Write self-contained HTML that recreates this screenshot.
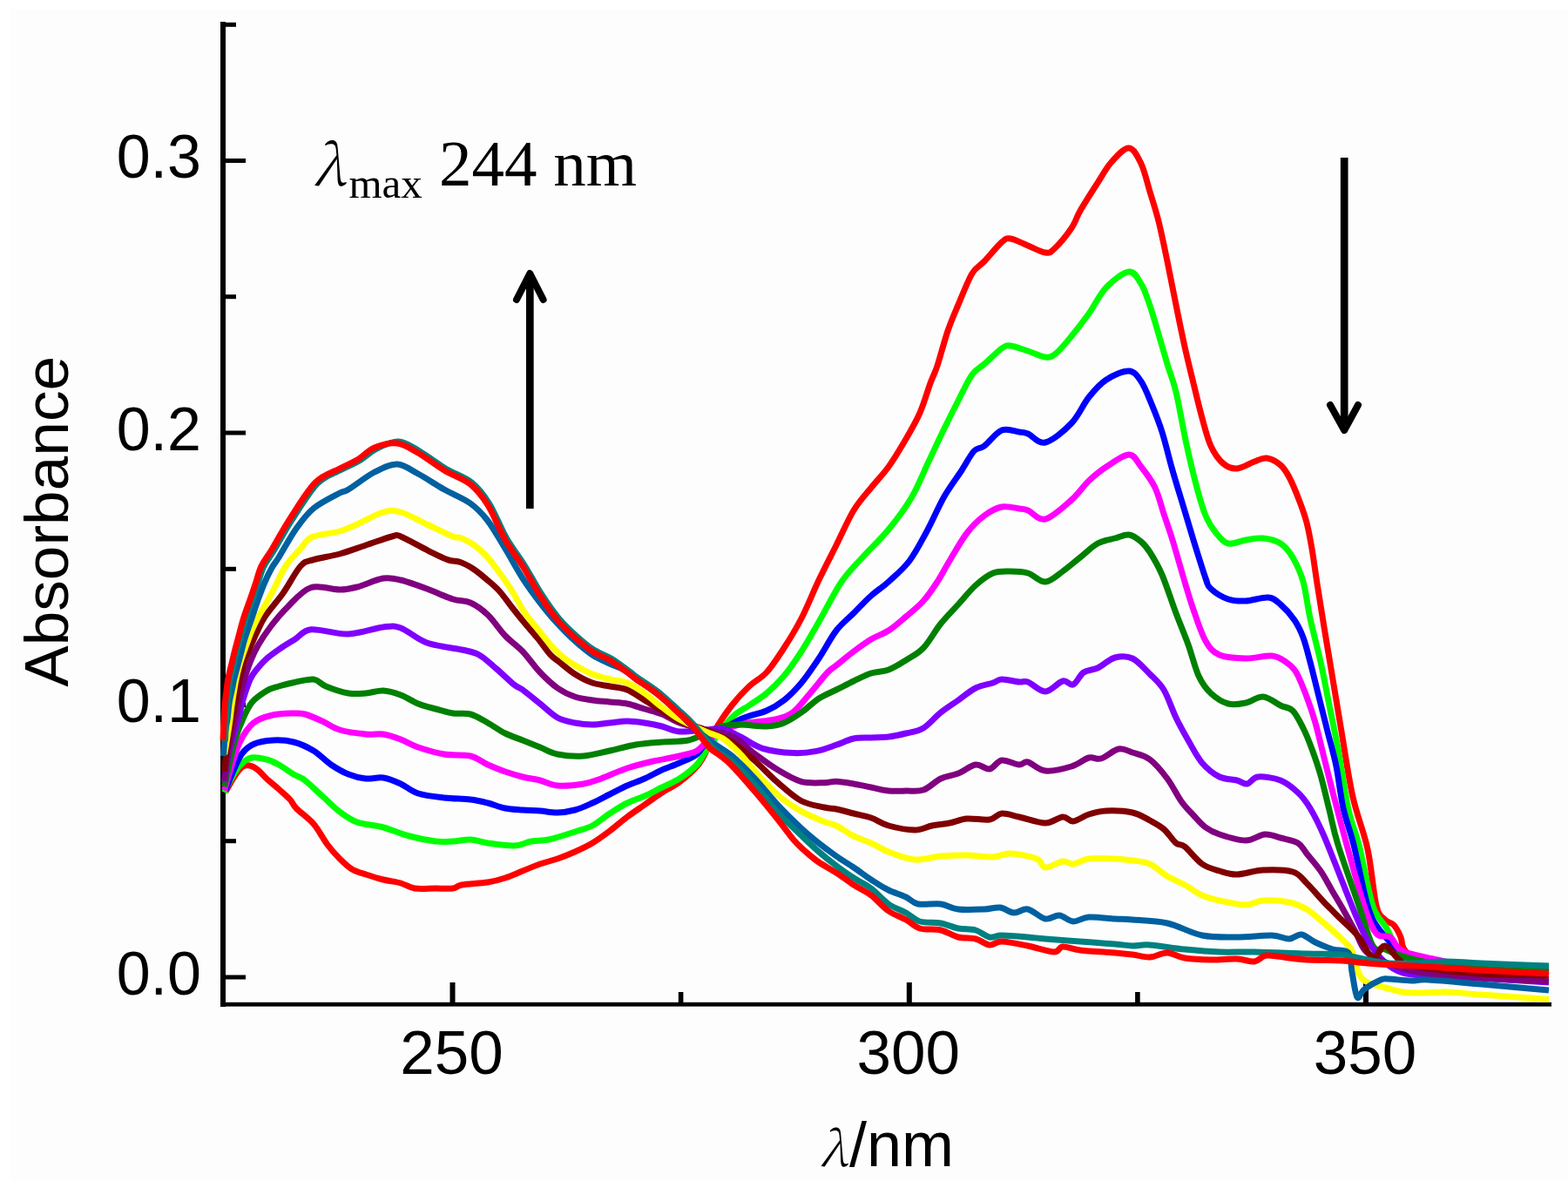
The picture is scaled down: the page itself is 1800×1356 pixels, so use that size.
<!DOCTYPE html>
<html><head><meta charset="utf-8"><title>Absorbance spectra</title>
<style>html,body{margin:0;padding:0;background:#fdfdfd;}body{width:1800px;height:1356px;overflow:hidden;position:relative;}svg{display:block;position:absolute;left:0;top:0;}.s{font-family:"Liberation Sans",Arial,sans-serif;}.r{font-family:"Liberation Serif","Times New Roman",serif;}</style></head><body>
<svg width="1800" height="1356" viewBox="0 0 1800 1356">
<rect x="0" y="0" width="1800" height="1356" fill="#fdfdfd"/>
<rect x="0" y="0" width="12" height="1356" fill="#ffffff"/>
<rect x="0" y="0" width="1800" height="11" fill="#ffffff"/>
<g fill="#000">
<rect x="253" y="25" width="6" height="1131"/>
<rect x="253" y="1150.8" width="1528" height="4.8"/>
<rect x="259" y="1119.5" width="23" height="5"/>
<rect x="259" y="807.0" width="23" height="5"/>
<rect x="259" y="494.5" width="23" height="5"/>
<rect x="259" y="182.0" width="23" height="5"/>
<rect x="259" y="963.2" width="12" height="5"/>
<rect x="259" y="650.8" width="12" height="5"/>
<rect x="259" y="338.2" width="12" height="5"/>
<rect x="259" y="25.8" width="12" height="5"/>
<rect x="516.5" y="1128" width="6" height="23"/>
<rect x="1040.8" y="1128" width="6" height="23"/>
<rect x="1565.0" y="1128" width="6" height="23"/>
<rect x="778.8" y="1139" width="5.6" height="12"/>
<rect x="1303.1" y="1139" width="5.6" height="12"/>
</g>
<g fill="none" stroke-width="7" stroke-linejoin="round" stroke-linecap="butt">
<path stroke="#ff0000" d="M259.0,909.0C260.6,906.2 265.7,896.7 268.8,892.0C271.9,887.3 274.7,883.2 277.6,881.0C280.6,878.8 283.4,878.5 286.5,879.0C289.6,879.5 292.8,881.5 296.0,884.0C299.2,886.5 302.0,890.3 306.0,894.0C310.0,897.7 315.5,902.0 320.0,906.0C324.5,910.0 329.7,914.3 333.0,918.0C336.3,921.7 335.5,923.3 340.0,928.0C344.5,932.7 354.0,939.0 360.0,946.0C366.0,953.0 371.0,963.3 376.0,970.0C381.0,976.7 385.3,981.3 390.0,986.0C394.7,990.7 399.0,995.0 404.0,998.0C409.0,1001.0 414.0,1002.0 420.0,1004.0C426.0,1006.0 433.3,1008.3 440.0,1010.0C446.7,1011.7 454.0,1012.3 460.0,1014.0C466.0,1015.7 469.3,1019.0 476.0,1020.0C482.7,1021.0 492.7,1020.0 500.0,1020.0C507.3,1020.0 515.0,1020.7 520.0,1020.0C525.0,1019.3 523.3,1017.2 530.0,1016.0C536.7,1014.8 551.7,1014.3 560.0,1013.0C568.3,1011.7 573.3,1010.2 580.0,1008.0C586.7,1005.8 593.3,1002.7 600.0,1000.0C606.7,997.3 613.3,994.3 620.0,992.0C626.7,989.7 633.3,988.3 640.0,986.0C646.7,983.7 653.3,981.0 660.0,978.0C666.7,975.0 673.3,972.0 680.0,968.0C686.7,964.0 693.3,959.0 700.0,954.0C706.7,949.0 713.3,943.0 720.0,938.0C726.7,933.0 733.3,928.7 740.0,924.0C746.7,919.3 753.3,914.3 760.0,910.0C766.7,905.7 773.3,903.0 780.0,898.0C786.7,893.0 795.0,885.7 800.0,880.0C805.0,874.3 806.7,870.7 810.0,864.0C813.3,857.3 815.0,849.0 820.0,840.0C825.0,831.0 833.3,818.7 840.0,810.0C846.7,801.3 853.3,794.3 860.0,788.0C866.7,781.7 873.3,779.3 880.0,772.0C886.7,764.7 893.3,754.3 900.0,744.0C906.7,733.7 913.3,723.0 920.0,710.0C926.7,697.0 933.3,680.0 940.0,666.0C946.7,652.0 953.3,639.3 960.0,626.0C966.7,612.7 973.3,597.0 980.0,586.0C986.7,575.0 993.3,568.3 1000.0,560.0C1006.7,551.7 1013.3,545.3 1020.0,536.0C1026.7,526.7 1034.0,514.3 1040.0,504.0C1046.0,493.7 1051.3,484.7 1056.0,474.0C1060.7,463.3 1064.7,449.0 1068.0,440.0C1071.3,431.0 1072.7,430.0 1076.0,420.0C1079.3,410.0 1084.0,391.7 1088.0,380.0C1092.0,368.3 1095.3,361.0 1100.0,350.0C1104.7,339.0 1111.0,322.3 1116.0,314.0C1121.0,305.7 1124.3,306.0 1130.0,300.0C1135.7,294.0 1145.0,282.3 1150.0,278.0C1155.0,273.7 1155.0,273.3 1160.0,274.0C1165.0,274.7 1173.3,279.3 1180.0,282.0C1186.7,284.7 1195.0,289.3 1200.0,290.0C1205.0,290.7 1205.0,290.7 1210.0,286.0C1215.0,281.3 1225.0,269.3 1230.0,262.0C1235.0,254.7 1235.0,250.7 1240.0,242.0C1245.0,233.3 1254.0,219.3 1260.0,210.0C1266.0,200.7 1270.0,192.7 1276.0,186.0C1282.0,179.3 1290.3,169.7 1296.0,170.0C1301.7,170.3 1306.0,179.7 1310.0,188.0C1314.0,196.3 1316.7,209.0 1320.0,220.0C1323.3,231.0 1326.7,240.7 1330.0,254.0C1333.3,267.3 1336.7,284.0 1340.0,300.0C1343.3,316.0 1346.7,333.7 1350.0,350.0C1353.3,366.3 1356.7,383.0 1360.0,398.0C1363.3,413.0 1366.7,426.3 1370.0,440.0C1373.3,453.7 1376.7,468.0 1380.0,480.0C1383.3,492.0 1386.0,503.3 1390.0,512.0C1394.0,520.7 1399.0,527.7 1404.0,532.0C1409.0,536.3 1414.0,538.3 1420.0,538.0C1426.0,537.7 1434.3,532.0 1440.0,530.0C1445.7,528.0 1449.0,525.3 1454.0,526.0C1459.0,526.7 1465.7,530.3 1470.0,534.0C1474.3,537.7 1476.3,541.0 1480.0,548.0C1483.7,555.0 1488.7,567.3 1492.0,576.0C1495.3,584.7 1497.7,591.0 1500.0,600.0C1502.3,609.0 1504.0,618.3 1506.0,630.0C1508.0,641.7 1509.7,655.0 1512.0,670.0C1514.3,685.0 1517.0,701.7 1520.0,720.0C1523.0,738.3 1526.7,760.0 1530.0,780.0C1533.3,800.0 1536.2,817.5 1540.0,840.0C1543.8,862.5 1548.0,892.5 1553.0,915.0C1558.0,937.5 1565.5,954.2 1570.0,975.0C1574.5,995.8 1576.7,1026.5 1580.0,1040.0C1583.3,1053.5 1586.7,1052.3 1590.0,1056.0C1593.3,1059.7 1597.0,1058.7 1600.0,1062.0C1603.0,1065.3 1606.0,1071.3 1608.0,1076.0C1610.0,1080.7 1608.3,1085.0 1612.0,1090.0C1615.7,1095.0 1622.0,1103.0 1630.0,1106.0C1638.0,1109.0 1648.3,1107.0 1660.0,1108.0C1671.7,1109.0 1680.3,1110.7 1700.0,1112.0C1719.7,1113.3 1765.0,1115.3 1778.0,1116.0"/>
<path stroke="#00ff00" d="M257.7,910.0C258.8,907.8 261.1,901.7 264.0,896.5C266.9,891.3 271.3,883.4 275.4,879.0C279.5,874.6 283.6,871.2 288.7,870.0C293.8,868.8 300.8,870.7 306.0,872.0C311.2,873.3 314.8,875.2 320.0,878.0C325.2,880.8 332.0,886.0 337.0,889.0C342.0,892.0 344.5,891.8 350.0,896.0C355.5,900.2 363.3,908.0 370.0,914.0C376.7,920.0 383.3,927.0 390.0,932.0C396.7,937.0 401.7,941.0 410.0,944.0C418.3,947.0 430.0,947.3 440.0,950.0C450.0,952.7 460.0,957.3 470.0,960.0C480.0,962.7 491.7,965.0 500.0,966.0C508.3,967.0 513.3,966.3 520.0,966.0C526.7,965.7 533.3,963.7 540.0,964.0C546.7,964.3 551.7,966.8 560.0,968.0C568.3,969.2 581.7,971.3 590.0,971.0C598.3,970.7 603.3,967.2 610.0,966.0C616.7,964.8 621.7,965.8 630.0,964.0C638.3,962.2 651.7,957.7 660.0,955.0C668.3,952.3 673.3,951.5 680.0,948.0C686.7,944.5 693.3,938.3 700.0,934.0C706.7,929.7 713.3,925.3 720.0,922.0C726.7,918.7 733.3,917.0 740.0,914.0C746.7,911.0 753.3,907.3 760.0,904.0C766.7,900.7 773.3,898.3 780.0,894.0C786.7,889.7 794.7,883.7 800.0,878.0C805.3,872.3 805.3,869.0 812.0,860.0C818.7,851.0 832.0,832.3 840.0,824.0C848.0,815.7 853.3,814.7 860.0,810.0C866.7,805.3 873.3,801.7 880.0,796.0C886.7,790.3 893.3,784.0 900.0,776.0C906.7,768.0 913.3,758.3 920.0,748.0C926.7,737.7 932.3,727.3 940.0,714.0C947.7,700.7 957.7,680.3 966.0,668.0C974.3,655.7 981.0,650.0 990.0,640.0C999.0,630.0 1010.7,619.3 1020.0,608.0C1029.3,596.7 1038.3,585.0 1046.0,572.0C1053.7,559.0 1059.7,543.3 1066.0,530.0C1072.3,516.7 1078.3,503.7 1084.0,492.0C1089.7,480.3 1094.7,470.3 1100.0,460.0C1105.3,449.7 1111.0,437.0 1116.0,430.0C1121.0,423.0 1124.3,423.0 1130.0,418.0C1135.7,413.0 1145.0,403.5 1150.0,400.0C1155.0,396.5 1155.0,396.5 1160.0,397.0C1165.0,397.5 1173.3,400.8 1180.0,403.0C1186.7,405.2 1194.7,409.5 1200.0,410.0C1205.3,410.5 1207.0,410.0 1212.0,406.0C1217.0,402.0 1223.7,393.7 1230.0,386.0C1236.3,378.3 1243.3,369.3 1250.0,360.0C1256.7,350.7 1262.3,338.0 1270.0,330.0C1277.7,322.0 1289.3,312.7 1296.0,312.0C1302.7,311.3 1306.3,320.5 1310.0,326.0C1313.7,331.5 1315.3,337.7 1318.0,345.0C1320.7,352.3 1322.3,357.8 1326.0,370.0C1329.7,382.2 1336.0,404.7 1340.0,418.0C1344.0,431.3 1346.3,434.7 1350.0,450.0C1353.7,465.3 1358.0,491.7 1362.0,510.0C1366.0,528.3 1370.3,546.3 1374.0,560.0C1377.7,573.7 1380.3,583.3 1384.0,592.0C1387.7,600.7 1391.7,606.7 1396.0,612.0C1400.3,617.3 1404.3,622.7 1410.0,624.0C1415.7,625.3 1423.3,621.0 1430.0,620.0C1436.7,619.0 1443.3,617.3 1450.0,618.0C1456.7,618.7 1464.3,620.3 1470.0,624.0C1475.7,627.7 1479.7,632.7 1484.0,640.0C1488.3,647.3 1492.7,656.3 1496.0,668.0C1499.3,679.7 1500.7,694.7 1504.0,710.0C1507.3,725.3 1512.3,743.3 1516.0,760.0C1519.7,776.7 1522.7,793.3 1526.0,810.0C1529.3,826.7 1532.3,840.0 1536.0,860.0C1539.7,880.0 1544.0,911.7 1548.0,930.0C1552.0,948.3 1555.3,951.7 1560.0,970.0C1564.7,988.3 1570.7,1024.0 1576.0,1040.0C1581.3,1056.0 1587.2,1057.3 1592.0,1066.0C1596.8,1074.7 1600.3,1087.0 1605.0,1092.0C1609.7,1097.0 1614.2,1094.3 1620.0,1096.0C1625.8,1097.7 1626.7,1100.0 1640.0,1102.0C1653.3,1104.0 1677.0,1106.3 1700.0,1108.0C1723.0,1109.7 1765.0,1111.3 1778.0,1112.0"/>
<path stroke="#0000ff" d="M258.8,907.6C260.3,903.9 264.6,892.5 267.7,885.5C270.8,878.5 273.7,870.8 277.6,865.6C281.5,860.4 285.1,857.1 291.0,854.5C296.9,851.9 305.3,850.4 313.0,850.0C320.7,849.6 329.2,850.0 337.0,852.0C344.8,854.0 352.8,857.7 360.0,862.0C367.2,866.3 373.3,873.5 380.0,878.0C386.7,882.5 393.3,886.3 400.0,889.0C406.7,891.7 413.3,893.3 420.0,894.0C426.7,894.7 433.3,892.0 440.0,893.0C446.7,894.0 453.3,897.0 460.0,900.0C466.7,903.0 471.7,908.3 480.0,911.0C488.3,913.7 500.0,914.8 510.0,916.0C520.0,917.2 531.7,917.0 540.0,918.0C548.3,919.0 553.3,920.3 560.0,922.0C566.7,923.7 573.3,926.7 580.0,928.0C586.7,929.3 593.3,929.5 600.0,930.0C606.7,930.5 613.3,930.5 620.0,931.0C626.7,931.5 633.3,933.2 640.0,933.0C646.7,932.8 653.3,931.8 660.0,930.0C666.7,928.2 673.3,925.0 680.0,922.0C686.7,919.0 693.3,915.3 700.0,912.0C706.7,908.7 713.3,905.0 720.0,902.0C726.7,899.0 733.3,897.0 740.0,894.0C746.7,891.0 753.3,887.0 760.0,884.0C766.7,881.0 773.3,879.0 780.0,876.0C786.7,873.0 794.2,870.7 800.0,866.0C805.8,861.3 806.7,854.7 815.0,848.0C823.3,841.3 839.2,831.3 850.0,826.0C860.8,820.7 871.7,819.7 880.0,816.0C888.3,812.3 893.3,809.3 900.0,804.0C906.7,798.7 913.3,792.0 920.0,784.0C926.7,776.0 933.3,766.0 940.0,756.0C946.7,746.0 953.3,732.7 960.0,724.0C966.7,715.3 973.3,710.7 980.0,704.0C986.7,697.3 993.3,690.0 1000.0,684.0C1006.7,678.0 1012.7,674.7 1020.0,668.0C1027.3,661.3 1036.7,653.7 1044.0,644.0C1051.3,634.3 1057.3,622.3 1064.0,610.0C1070.7,597.7 1077.3,581.7 1084.0,570.0C1090.7,558.3 1098.3,548.7 1104.0,540.0C1109.7,531.3 1113.7,522.7 1118.0,518.0C1122.3,513.3 1124.7,516.0 1130.0,512.0C1135.3,508.0 1143.3,496.7 1150.0,494.0C1156.7,491.3 1165.0,495.3 1170.0,496.0C1175.0,496.7 1175.0,496.0 1180.0,498.0C1185.0,500.0 1191.7,510.0 1200.0,508.0C1208.3,506.0 1221.7,494.7 1230.0,486.0C1238.3,477.3 1243.3,464.3 1250.0,456.0C1256.7,447.7 1262.3,441.0 1270.0,436.0C1277.7,431.0 1289.3,425.7 1296.0,426.0C1302.7,426.3 1305.7,431.7 1310.0,438.0C1314.3,444.3 1318.0,454.3 1322.0,464.0C1326.0,473.7 1330.0,483.3 1334.0,496.0C1338.0,508.7 1342.0,526.0 1346.0,540.0C1350.0,554.0 1354.0,566.7 1358.0,580.0C1362.0,593.3 1365.7,606.0 1370.0,620.0C1374.3,634.0 1380.7,654.7 1384.0,664.0C1387.3,673.3 1385.7,672.0 1390.0,676.0C1394.3,680.0 1403.3,685.7 1410.0,688.0C1416.7,690.3 1422.3,690.3 1430.0,690.0C1437.7,689.7 1449.3,685.3 1456.0,686.0C1462.7,686.7 1465.0,689.7 1470.0,694.0C1475.0,698.3 1481.7,705.7 1486.0,712.0C1490.3,718.3 1493.0,724.0 1496.0,732.0C1499.0,740.0 1501.0,748.7 1504.0,760.0C1507.0,771.3 1510.7,786.7 1514.0,800.0C1517.3,813.3 1520.7,826.7 1524.0,840.0C1527.3,853.3 1531.0,865.3 1534.0,880.0C1537.0,894.7 1538.7,913.0 1542.0,928.0C1545.3,943.0 1549.3,951.3 1554.0,970.0C1558.7,988.7 1565.0,1023.7 1570.0,1040.0C1575.0,1056.3 1577.3,1059.0 1584.0,1068.0C1590.7,1077.0 1600.7,1087.7 1610.0,1094.0C1619.3,1100.3 1625.0,1103.0 1640.0,1106.0C1655.0,1109.0 1677.0,1110.3 1700.0,1112.0C1723.0,1113.7 1765.0,1115.3 1778.0,1116.0"/>
<path stroke="#ff00ff" d="M257.7,907.6C258.8,903.9 261.1,894.8 264.0,885.5C266.9,876.2 270.9,861.2 275.4,852.0C279.9,842.8 284.7,835.2 291.0,830.0C297.3,824.8 305.3,822.8 313.0,821.0C320.7,819.2 330.8,819.2 337.0,819.0C343.2,818.8 344.5,818.5 350.0,820.0C355.5,821.5 363.3,825.0 370.0,828.0C376.7,831.0 381.7,835.5 390.0,838.0C398.3,840.5 411.7,842.2 420.0,843.0C428.3,843.8 433.3,842.0 440.0,843.0C446.7,844.0 453.3,846.5 460.0,849.0C466.7,851.5 471.7,855.2 480.0,858.0C488.3,860.8 500.0,864.3 510.0,866.0C520.0,867.7 531.7,866.0 540.0,868.0C548.3,870.0 553.3,875.0 560.0,878.0C566.7,881.0 573.3,883.7 580.0,886.0C586.7,888.3 593.3,890.3 600.0,892.0C606.7,893.7 613.3,894.3 620.0,896.0C626.7,897.7 631.7,901.3 640.0,902.0C648.3,902.7 661.7,901.3 670.0,900.0C678.3,898.7 681.7,897.0 690.0,894.0C698.3,891.0 710.0,885.3 720.0,882.0C730.0,878.7 740.0,876.3 750.0,874.0C760.0,871.7 771.7,870.0 780.0,868.0C788.3,866.0 794.2,865.3 800.0,862.0C805.8,858.7 809.2,852.3 815.0,848.0C820.8,843.7 827.5,839.0 835.0,836.0C842.5,833.0 850.8,831.7 860.0,830.0C869.2,828.3 881.7,828.0 890.0,826.0C898.3,824.0 903.3,823.0 910.0,818.0C916.7,813.0 923.3,803.7 930.0,796.0C936.7,788.3 945.0,777.3 950.0,772.0C955.0,766.7 955.0,768.0 960.0,764.0C965.0,760.0 973.3,753.0 980.0,748.0C986.7,743.0 993.3,738.0 1000.0,734.0C1006.7,730.0 1013.3,728.3 1020.0,724.0C1026.7,719.7 1033.3,713.7 1040.0,708.0C1046.7,702.3 1054.0,696.7 1060.0,690.0C1066.0,683.3 1071.0,675.7 1076.0,668.0C1081.0,660.3 1084.3,653.3 1090.0,644.0C1095.7,634.7 1103.3,620.7 1110.0,612.0C1116.7,603.3 1123.3,597.0 1130.0,592.0C1136.7,587.0 1143.3,583.3 1150.0,582.0C1156.7,580.7 1165.0,583.3 1170.0,584.0C1175.0,584.7 1175.0,584.0 1180.0,586.0C1185.0,588.0 1191.7,598.0 1200.0,596.0C1208.3,594.0 1221.7,581.3 1230.0,574.0C1238.3,566.7 1243.3,558.3 1250.0,552.0C1256.7,545.7 1262.3,541.0 1270.0,536.0C1277.7,531.0 1289.3,522.0 1296.0,522.0C1302.7,522.0 1305.0,529.7 1310.0,536.0C1315.0,542.3 1321.7,551.0 1326.0,560.0C1330.3,569.0 1332.7,580.0 1336.0,590.0C1339.3,600.0 1342.0,607.0 1346.0,620.0C1350.0,633.0 1356.0,654.7 1360.0,668.0C1364.0,681.3 1366.0,688.7 1370.0,700.0C1374.0,711.3 1379.0,727.3 1384.0,736.0C1389.0,744.7 1392.3,748.7 1400.0,752.0C1407.7,755.3 1420.0,755.8 1430.0,756.0C1440.0,756.2 1452.3,752.3 1460.0,753.0C1467.7,753.7 1471.3,756.8 1476.0,760.0C1480.7,763.2 1484.0,765.3 1488.0,772.0C1492.0,778.7 1496.3,790.3 1500.0,800.0C1503.7,809.7 1506.7,818.3 1510.0,830.0C1513.3,841.7 1516.7,856.7 1520.0,870.0C1523.3,883.3 1525.7,893.3 1530.0,910.0C1534.3,926.7 1540.0,948.3 1546.0,970.0C1552.0,991.7 1560.3,1023.0 1566.0,1040.0C1571.7,1057.0 1575.0,1066.0 1580.0,1072.0C1585.0,1078.0 1591.0,1072.7 1596.0,1076.0C1601.0,1079.3 1601.0,1087.7 1610.0,1092.0C1619.0,1096.3 1635.0,1098.7 1650.0,1102.0C1665.0,1105.3 1678.7,1109.0 1700.0,1112.0C1721.3,1115.0 1765.0,1118.7 1778.0,1120.0"/>
<path stroke="#008000" d="M257.7,903.0C258.8,898.2 261.9,883.0 264.0,874.0C266.1,865.0 267.6,857.0 270.0,849.0C272.4,841.0 275.3,833.4 278.5,826.3C281.7,819.2 284.6,811.9 289.2,806.4C293.8,800.9 301.3,796.1 306.4,793.0C311.5,789.9 314.9,789.5 320.0,788.0C325.1,786.5 330.3,785.0 337.0,783.7C343.7,782.4 353.8,779.3 360.0,780.0C366.2,780.7 367.3,785.3 374.0,788.0C380.7,790.7 392.3,794.7 400.0,796.0C407.7,797.3 413.3,796.5 420.0,796.0C426.7,795.5 433.3,792.7 440.0,793.0C446.7,793.3 453.3,795.5 460.0,798.0C466.7,800.5 473.3,805.3 480.0,808.0C486.7,810.7 493.3,812.2 500.0,814.0C506.7,815.8 513.3,818.0 520.0,819.0C526.7,820.0 533.3,818.2 540.0,820.0C546.7,821.8 553.3,826.3 560.0,830.0C566.7,833.7 573.3,838.7 580.0,842.0C586.7,845.3 593.3,847.3 600.0,850.0C606.7,852.7 613.3,855.3 620.0,858.0C626.7,860.7 631.7,864.3 640.0,866.0C648.3,867.7 660.0,868.7 670.0,868.0C680.0,867.3 690.0,864.2 700.0,862.0C710.0,859.8 720.0,856.7 730.0,855.0C740.0,853.3 750.0,852.8 760.0,852.0C770.0,851.2 781.7,851.7 790.0,850.0C798.3,848.3 803.3,844.7 810.0,842.0C816.7,839.3 823.3,835.7 830.0,834.0C836.7,832.3 841.7,832.0 850.0,832.0C858.3,832.0 871.7,834.3 880.0,834.0C888.3,833.7 893.3,832.7 900.0,830.0C906.7,827.3 913.3,822.7 920.0,818.0C926.7,813.3 933.3,806.3 940.0,802.0C946.7,797.7 953.3,795.3 960.0,792.0C966.7,788.7 973.3,785.2 980.0,782.0C986.7,778.8 993.3,775.2 1000.0,773.0C1006.7,770.8 1013.3,771.5 1020.0,769.0C1026.7,766.5 1033.3,762.2 1040.0,758.0C1046.7,753.8 1053.3,751.0 1060.0,744.0C1066.7,737.0 1073.3,724.3 1080.0,716.0C1086.7,707.7 1093.3,701.3 1100.0,694.0C1106.7,686.7 1113.3,678.0 1120.0,672.0C1126.7,666.0 1133.3,660.7 1140.0,658.0C1146.7,655.3 1153.3,656.0 1160.0,656.0C1166.7,656.0 1173.3,656.0 1180.0,658.0C1186.7,660.0 1193.3,668.3 1200.0,668.0C1206.7,667.7 1213.3,660.7 1220.0,656.0C1226.7,651.3 1233.3,645.3 1240.0,640.0C1246.7,634.7 1253.3,627.7 1260.0,624.0C1266.7,620.3 1274.0,619.7 1280.0,618.0C1286.0,616.3 1291.0,613.3 1296.0,614.0C1301.0,614.7 1306.0,618.7 1310.0,622.0C1314.0,625.3 1316.0,627.7 1320.0,634.0C1324.0,640.3 1329.0,648.3 1334.0,660.0C1339.0,671.7 1345.0,690.7 1350.0,704.0C1355.0,717.3 1359.7,728.0 1364.0,740.0C1368.3,752.0 1371.7,766.7 1376.0,776.0C1380.3,785.3 1384.3,790.7 1390.0,796.0C1395.7,801.3 1403.3,806.2 1410.0,808.0C1416.7,809.8 1423.3,808.3 1430.0,807.0C1436.7,805.7 1443.3,799.5 1450.0,800.0C1456.7,800.5 1464.3,807.3 1470.0,810.0C1475.7,812.7 1479.7,811.7 1484.0,816.0C1488.3,820.3 1492.3,828.7 1496.0,836.0C1499.7,843.3 1502.7,851.0 1506.0,860.0C1509.3,869.0 1512.7,878.3 1516.0,890.0C1519.3,901.7 1522.7,916.7 1526.0,930.0C1529.3,943.3 1530.3,951.7 1536.0,970.0C1541.7,988.3 1553.3,1020.7 1560.0,1040.0C1566.7,1059.3 1571.0,1077.7 1576.0,1086.0C1581.0,1094.3 1584.3,1088.0 1590.0,1090.0C1595.7,1092.0 1598.3,1095.0 1610.0,1098.0C1621.7,1101.0 1632.0,1105.7 1660.0,1108.0C1688.0,1110.3 1758.3,1111.3 1778.0,1112.0"/>
<path stroke="#8000ff" d="M257.7,898.0C258.6,892.2 260.4,875.0 263.0,863.0C265.6,851.0 271.1,835.5 273.6,826.0C276.1,816.5 275.9,813.7 278.2,806.0C280.5,798.3 284.2,786.5 287.2,780.0C290.2,773.5 292.8,771.0 296.0,767.0C299.2,763.0 302.3,759.6 306.5,755.9C310.7,752.2 315.9,748.5 321.3,744.8C326.7,741.1 333.0,737.4 339.0,733.7C345.0,730.0 347.2,723.7 357.4,722.7C367.6,721.8 386.2,728.5 400.0,728.0C413.8,727.5 430.0,721.2 440.0,720.0C450.0,718.8 451.7,718.0 460.0,721.0C468.3,724.0 478.3,733.8 490.0,738.0C501.7,742.2 520.0,743.7 530.0,746.0C540.0,748.3 543.3,748.3 550.0,752.0C556.7,755.7 563.3,762.3 570.0,768.0C576.7,773.7 585.0,782.0 590.0,786.0C595.0,790.0 595.0,788.3 600.0,792.0C605.0,795.7 613.3,802.7 620.0,808.0C626.7,813.3 633.3,820.3 640.0,824.0C646.7,827.7 653.3,828.7 660.0,830.0C666.7,831.3 673.3,832.0 680.0,832.0C686.7,832.0 693.3,830.7 700.0,830.0C706.7,829.3 713.3,828.0 720.0,828.0C726.7,828.0 733.3,829.0 740.0,830.0C746.7,831.0 753.3,832.3 760.0,834.0C766.7,835.7 771.7,839.3 780.0,840.0C788.3,840.7 801.7,838.5 810.0,838.0C818.3,837.5 823.3,835.7 830.0,837.0C836.7,838.3 842.4,842.3 850.0,846.0C857.6,849.7 865.3,856.2 875.4,859.3C885.5,862.4 900.5,864.1 910.8,864.6C921.1,865.1 929.1,864.0 937.3,862.4C945.5,860.8 952.9,857.7 960.0,855.3C967.1,852.9 973.3,849.4 980.0,848.0C986.7,846.6 993.3,847.3 1000.0,847.0C1006.7,846.7 1013.3,846.8 1020.0,846.0C1026.7,845.2 1033.3,843.7 1040.0,842.0C1046.7,840.3 1053.3,840.0 1060.0,836.0C1066.7,832.0 1073.3,823.3 1080.0,818.0C1086.7,812.7 1093.3,808.7 1100.0,804.0C1106.7,799.3 1113.3,793.3 1120.0,790.0C1126.7,786.7 1135.0,785.7 1140.0,784.0C1145.0,782.3 1145.0,780.2 1150.0,780.0C1155.0,779.8 1165.0,782.5 1170.0,783.0C1175.0,783.5 1175.0,781.2 1180.0,783.0C1185.0,784.8 1193.3,794.2 1200.0,794.0C1206.7,793.8 1214.7,783.3 1220.0,782.0C1225.3,780.7 1228.0,787.7 1232.0,786.0C1236.0,784.3 1239.3,775.2 1244.0,772.0C1248.7,768.8 1254.0,769.8 1260.0,767.0C1266.0,764.2 1273.3,756.8 1280.0,755.0C1286.7,753.2 1293.3,752.8 1300.0,756.0C1306.7,759.2 1314.0,768.0 1320.0,774.0C1326.0,780.0 1331.0,783.7 1336.0,792.0C1341.0,800.3 1345.3,814.3 1350.0,824.0C1354.7,833.7 1359.0,841.3 1364.0,850.0C1369.0,858.7 1374.0,869.0 1380.0,876.0C1386.0,883.0 1393.3,888.7 1400.0,892.0C1406.7,895.3 1414.7,894.7 1420.0,896.0C1425.3,897.3 1428.0,900.7 1432.0,900.0C1436.0,899.3 1437.7,892.7 1444.0,892.0C1450.3,891.3 1462.3,893.0 1470.0,896.0C1477.7,899.0 1484.3,904.7 1490.0,910.0C1495.7,915.3 1499.0,919.7 1504.0,928.0C1509.0,936.3 1514.0,946.3 1520.0,960.0C1526.0,973.7 1534.0,995.0 1540.0,1010.0C1546.0,1025.0 1551.0,1038.3 1556.0,1050.0C1561.0,1061.7 1564.3,1070.8 1570.0,1080.0C1575.7,1089.2 1583.3,1098.8 1590.0,1105.0C1596.7,1111.2 1601.7,1114.5 1610.0,1117.0C1618.3,1119.5 1628.3,1119.2 1640.0,1120.0C1651.7,1120.8 1657.0,1120.7 1680.0,1122.0C1703.0,1123.3 1761.7,1127.0 1778.0,1128.0"/>
<path stroke="#800080" d="M257.7,896.5C258.4,890.9 259.9,874.8 262.0,863.0C264.1,851.2 268.2,835.5 270.2,826.0C272.2,816.5 272.5,813.7 274.2,806.0C275.9,798.3 278.3,787.7 280.5,780.0C282.7,772.3 284.8,766.1 287.4,759.6C290.0,753.1 292.3,747.9 296.2,741.1C300.1,734.3 305.4,726.4 311.0,719.0C316.6,711.6 322.5,704.3 330.1,696.9C337.7,689.5 346.7,678.0 356.7,674.7C366.7,671.4 381.1,677.1 390.0,677.0C398.9,676.9 401.7,676.2 410.0,674.0C418.3,671.8 431.7,665.3 440.0,664.0C448.3,662.7 451.7,664.0 460.0,666.0C468.3,668.0 480.0,672.3 490.0,676.0C500.0,679.7 511.7,685.3 520.0,688.0C528.3,690.7 533.3,689.0 540.0,692.0C546.7,695.0 553.3,699.7 560.0,706.0C566.7,712.3 573.3,723.0 580.0,730.0C586.7,737.0 593.3,741.0 600.0,748.0C606.7,755.0 613.3,765.0 620.0,772.0C626.7,779.0 633.3,785.3 640.0,790.0C646.7,794.7 653.3,797.7 660.0,800.0C666.7,802.3 673.3,803.0 680.0,804.0C686.7,805.0 693.3,805.3 700.0,806.0C706.7,806.7 713.3,806.7 720.0,808.0C726.7,809.3 733.3,812.0 740.0,814.0C746.7,816.0 753.3,817.3 760.0,820.0C766.7,822.7 771.7,827.0 780.0,830.0C788.3,833.0 800.0,835.5 810.0,838.0C820.0,840.5 830.6,840.4 840.0,845.0C849.4,849.6 857.7,859.0 866.5,865.5C875.3,872.0 884.1,878.7 893.0,884.0C901.9,889.3 910.7,894.8 919.6,897.3C928.5,899.8 939.5,898.7 946.2,898.7C952.9,898.7 954.4,897.1 960.0,897.3C965.6,897.5 973.3,898.9 980.0,900.0C986.7,901.1 993.3,902.7 1000.0,904.0C1006.7,905.3 1013.3,907.3 1020.0,908.0C1026.7,908.7 1033.3,908.2 1040.0,908.0C1046.7,907.8 1053.3,909.3 1060.0,907.0C1066.7,904.7 1073.3,897.2 1080.0,894.0C1086.7,890.8 1093.3,890.7 1100.0,888.0C1106.7,885.3 1114.0,878.8 1120.0,878.0C1126.0,877.2 1131.0,883.8 1136.0,883.0C1141.0,882.2 1144.3,873.8 1150.0,873.0C1155.7,872.2 1165.0,877.7 1170.0,878.0C1175.0,878.3 1175.0,873.8 1180.0,875.0C1185.0,876.2 1191.7,884.2 1200.0,885.0C1208.3,885.8 1221.7,882.5 1230.0,880.0C1238.3,877.5 1244.3,871.5 1250.0,870.0C1255.7,868.5 1258.3,872.7 1264.0,871.0C1269.7,869.3 1278.0,861.2 1284.0,860.0C1290.0,858.8 1294.0,862.0 1300.0,864.0C1306.0,866.0 1313.3,867.0 1320.0,872.0C1326.7,877.0 1334.0,886.0 1340.0,894.0C1346.0,902.0 1351.0,913.0 1356.0,920.0C1361.0,927.0 1365.3,931.0 1370.0,936.0C1374.7,941.0 1379.0,946.3 1384.0,950.0C1389.0,953.7 1392.3,955.5 1400.0,958.0C1407.7,960.5 1421.3,965.0 1430.0,965.0C1438.7,965.0 1445.3,958.5 1452.0,958.0C1458.7,957.5 1463.7,960.3 1470.0,962.0C1476.3,963.7 1485.0,965.0 1490.0,968.0C1495.0,971.0 1495.7,974.7 1500.0,980.0C1504.3,985.3 1511.0,992.7 1516.0,1000.0C1521.0,1007.3 1525.3,1016.0 1530.0,1024.0C1534.7,1032.0 1539.7,1040.3 1544.0,1048.0C1548.3,1055.7 1552.3,1063.0 1556.0,1070.0C1559.7,1077.0 1562.0,1085.0 1566.0,1090.0C1570.0,1095.0 1572.7,1096.3 1580.0,1100.0C1587.3,1103.7 1600.0,1109.0 1610.0,1112.0C1620.0,1115.0 1625.0,1116.2 1640.0,1118.0C1655.0,1119.8 1677.0,1121.5 1700.0,1123.0C1723.0,1124.5 1765.0,1126.3 1778.0,1127.0"/>
<path stroke="#800000" d="M257.7,885.5C258.2,880.6 259.5,865.9 261.0,856.0C262.5,846.1 265.1,834.3 266.6,826.0C268.1,817.7 268.8,813.7 270.2,806.0C271.6,798.3 273.4,787.7 275.0,780.0C276.6,772.3 278.1,765.8 280.0,760.0C281.9,754.2 284.1,750.6 286.5,745.0C288.9,739.4 291.7,732.6 294.7,726.4C297.7,720.1 299.4,715.1 304.5,707.5C309.6,699.9 318.2,690.6 325.0,681.0C331.8,671.4 339.2,656.4 345.0,650.0C350.8,643.6 352.5,644.9 360.0,642.6C367.5,640.3 380.0,638.8 390.0,636.0C400.0,633.2 410.0,629.3 420.0,626.0C430.0,622.7 443.3,617.7 450.0,616.0C456.7,614.3 453.1,613.3 460.0,616.0C466.9,618.7 482.7,627.9 491.6,632.3C500.6,636.7 507.6,640.4 513.7,642.6C519.9,644.8 523.6,643.8 528.5,645.5C533.4,647.2 538.1,649.8 543.0,653.0C547.9,656.2 553.0,660.5 558.0,664.7C563.0,668.9 567.8,672.6 572.7,678.0C577.6,683.4 582.6,690.8 587.5,697.0C592.4,703.2 597.1,709.1 602.0,715.0C606.9,720.9 612.0,726.5 617.0,732.6C622.0,738.7 627.5,747.1 631.7,751.7C635.9,756.3 637.3,756.3 642.0,760.0C646.7,763.7 653.7,770.0 660.0,774.0C666.3,778.0 673.3,781.7 680.0,784.0C686.7,786.3 693.3,786.7 700.0,788.0C706.7,789.3 713.3,789.3 720.0,792.0C726.7,794.7 733.3,800.0 740.0,804.0C746.7,808.0 753.3,812.0 760.0,816.0C766.7,820.0 771.7,824.3 780.0,828.0C788.3,831.7 800.0,834.0 810.0,838.0C820.0,842.0 830.6,846.1 840.0,852.0C849.4,857.9 857.7,865.7 866.5,873.5C875.3,881.3 884.1,891.0 893.0,898.7C901.9,906.4 910.7,914.8 919.6,919.5C928.5,924.2 939.5,925.4 946.2,927.0C952.9,928.6 954.4,927.8 960.0,929.0C965.6,930.2 973.3,932.3 980.0,934.0C986.7,935.7 993.3,936.7 1000.0,939.0C1006.7,941.3 1011.7,945.7 1020.0,948.0C1028.3,950.3 1041.7,953.0 1050.0,953.0C1058.3,953.0 1063.3,949.3 1070.0,948.0C1076.7,946.7 1083.3,946.3 1090.0,945.0C1096.7,943.7 1102.3,940.7 1110.0,940.0C1117.7,939.3 1129.3,942.0 1136.0,941.0C1142.7,940.0 1144.3,934.5 1150.0,934.0C1155.7,933.5 1161.7,936.2 1170.0,938.0C1178.3,939.8 1191.7,945.0 1200.0,945.0C1208.3,945.0 1214.7,938.3 1220.0,938.0C1225.3,937.7 1227.0,943.5 1232.0,943.0C1237.0,942.5 1243.7,937.0 1250.0,935.0C1256.3,933.0 1261.7,931.3 1270.0,931.0C1278.3,930.7 1291.7,931.2 1300.0,933.0C1308.3,934.8 1314.0,938.8 1320.0,942.0C1326.0,945.2 1331.0,947.7 1336.0,952.0C1341.0,956.3 1346.0,964.7 1350.0,968.0C1354.0,971.3 1355.0,968.0 1360.0,972.0C1365.0,976.0 1373.3,987.3 1380.0,992.0C1386.7,996.7 1393.3,998.0 1400.0,1000.0C1406.7,1002.0 1411.7,1004.2 1420.0,1004.0C1428.3,1003.8 1439.3,999.5 1450.0,999.0C1460.7,998.5 1475.7,998.5 1484.0,1001.0C1492.3,1003.5 1494.0,1008.2 1500.0,1014.0C1506.0,1019.8 1513.3,1029.0 1520.0,1036.0C1526.7,1043.0 1533.3,1049.3 1540.0,1056.0C1546.7,1062.7 1554.0,1068.7 1560.0,1076.0C1566.0,1083.3 1571.0,1098.3 1576.0,1100.0C1581.0,1101.7 1584.3,1085.2 1590.0,1086.0C1595.7,1086.8 1601.7,1100.7 1610.0,1105.0C1618.3,1109.3 1625.0,1109.8 1640.0,1112.0C1655.0,1114.2 1677.0,1116.7 1700.0,1118.0C1723.0,1119.3 1765.0,1119.7 1778.0,1120.0"/>
<path stroke="#ffff00" d="M257.7,866.0C258.2,862.7 259.9,852.7 261.0,846.0C262.1,839.3 263.1,832.7 264.0,826.0C264.9,819.3 265.4,813.7 266.6,806.0C267.8,798.3 269.4,787.7 271.0,780.0C272.6,772.3 274.0,766.7 276.0,760.0C278.0,753.3 280.8,746.0 283.0,740.0C285.2,734.0 286.9,729.0 289.0,724.0C291.1,719.0 291.8,717.2 295.6,710.0C299.4,702.8 306.6,691.0 312.0,681.0C317.4,671.0 322.5,658.5 328.0,650.0C333.5,641.5 340.0,635.5 345.0,630.0C350.0,624.5 350.5,620.0 358.0,616.7C365.5,613.4 381.3,612.5 390.0,610.0C398.7,607.5 401.7,605.7 410.0,602.0C418.3,598.3 431.7,590.3 440.0,588.0C448.3,585.7 451.7,585.7 460.0,588.0C468.3,590.3 480.0,597.3 490.0,602.0C500.0,606.7 513.6,613.4 520.0,616.0C526.4,618.6 524.7,616.0 528.5,617.5C532.3,619.0 538.1,621.6 543.0,625.0C547.9,628.4 553.0,632.7 558.0,638.0C563.0,643.3 568.1,650.3 573.0,657.0C577.9,663.7 582.7,670.3 587.5,678.0C592.3,685.7 597.1,695.7 602.0,703.0C606.9,710.3 612.0,715.8 617.0,722.0C622.0,728.2 626.8,734.5 631.7,740.0C636.6,745.5 641.5,750.5 646.5,754.7C651.5,758.9 656.4,761.8 662.0,765.0C667.6,768.2 673.7,771.5 680.0,774.0C686.3,776.5 693.3,778.3 700.0,780.0C706.7,781.7 713.3,781.3 720.0,784.0C726.7,786.7 733.3,791.3 740.0,796.0C746.7,800.7 753.3,807.0 760.0,812.0C766.7,817.0 771.7,821.3 780.0,826.0C788.3,830.7 801.7,836.3 810.0,840.0C818.3,843.7 823.3,843.7 830.0,848.0C836.7,852.3 843.9,859.8 850.0,866.0C856.1,872.2 859.3,877.6 866.5,885.4C873.7,893.2 884.1,905.1 893.0,912.8C901.9,920.5 910.7,926.3 919.6,931.4C928.5,936.5 939.5,940.6 946.2,943.4C952.9,946.2 954.4,945.2 960.0,948.0C965.6,950.8 973.3,956.7 980.0,960.0C986.7,963.3 993.3,965.0 1000.0,968.0C1006.7,971.0 1011.7,974.8 1020.0,978.0C1028.3,981.2 1040.0,986.2 1050.0,987.0C1060.0,987.8 1070.0,983.8 1080.0,983.0C1090.0,982.2 1100.0,981.8 1110.0,982.0C1120.0,982.2 1131.7,984.3 1140.0,984.0C1148.3,983.7 1151.7,979.7 1160.0,980.0C1168.3,980.3 1183.3,983.3 1190.0,986.0C1196.7,988.7 1195.0,995.5 1200.0,996.0C1205.0,996.5 1214.7,989.7 1220.0,989.0C1225.3,988.3 1227.0,992.5 1232.0,992.0C1237.0,991.5 1242.0,987.0 1250.0,986.0C1258.0,985.0 1271.7,985.7 1280.0,986.0C1288.3,986.3 1293.3,987.0 1300.0,988.0C1306.7,989.0 1313.3,989.0 1320.0,992.0C1326.7,995.0 1333.3,1002.0 1340.0,1006.0C1346.7,1010.0 1353.3,1012.3 1360.0,1016.0C1366.7,1019.7 1373.3,1025.0 1380.0,1028.0C1386.7,1031.0 1391.7,1032.2 1400.0,1034.0C1408.3,1035.8 1421.7,1039.0 1430.0,1039.0C1438.3,1039.0 1441.7,1034.5 1450.0,1034.0C1458.3,1033.5 1471.7,1034.3 1480.0,1036.0C1488.3,1037.7 1493.3,1040.0 1500.0,1044.0C1506.7,1048.0 1513.3,1054.3 1520.0,1060.0C1526.7,1065.7 1534.7,1072.7 1540.0,1078.0C1545.3,1083.3 1548.7,1085.3 1552.0,1092.0C1555.3,1098.7 1557.0,1112.0 1560.0,1118.0C1563.0,1124.0 1565.0,1125.3 1570.0,1128.0C1575.0,1130.7 1583.3,1132.2 1590.0,1134.0C1596.7,1135.8 1603.3,1138.0 1610.0,1139.0C1616.7,1140.0 1621.7,1140.0 1630.0,1140.0C1638.3,1140.0 1648.3,1138.7 1660.0,1139.0C1671.7,1139.3 1680.3,1140.6 1700.0,1142.0C1719.7,1143.4 1765.0,1146.6 1778.0,1147.5"/>
<path stroke="#0060a0" d="M256.5,868.0C256.8,863.5 257.8,848.0 258.5,841.0C259.2,834.0 260.2,831.8 261.0,826.0C261.8,820.2 262.3,812.1 263.3,806.0C264.3,799.9 265.9,794.2 266.8,789.6C267.8,785.0 267.6,784.0 269.0,778.5C270.4,773.0 272.9,763.8 274.9,756.4C276.9,749.0 278.5,741.7 280.8,734.0C283.1,726.3 286.4,717.3 288.9,710.0C291.4,702.7 293.3,696.7 295.7,690.0C298.1,683.3 300.6,676.3 303.3,670.0C306.0,663.7 309.2,657.0 312.0,652.0C314.8,647.0 315.3,647.5 320.0,640.0C324.7,632.5 333.3,616.4 340.0,607.0C346.7,597.6 351.7,590.4 360.0,583.6C368.3,576.8 383.3,569.6 390.0,566.0C396.7,562.4 393.3,566.0 400.0,562.0C406.7,558.0 420.7,546.8 430.0,542.0C439.3,537.2 447.7,532.7 456.0,533.0C464.3,533.3 471.0,539.2 480.0,544.0C489.0,548.8 500.0,556.3 510.0,562.0C520.0,567.7 531.7,572.0 540.0,578.0C548.3,584.0 553.3,589.3 560.0,598.0C566.7,606.7 573.3,619.0 580.0,630.0C586.7,641.0 593.3,653.7 600.0,664.0C606.7,674.3 613.3,683.3 620.0,692.0C626.7,700.7 633.3,708.7 640.0,716.0C646.7,723.3 653.3,730.0 660.0,736.0C666.7,742.0 673.3,747.7 680.0,752.0C686.7,756.3 693.3,758.8 700.0,762.0C706.7,765.2 713.3,767.0 720.0,771.0C726.7,775.0 733.3,781.0 740.0,786.0C746.7,791.0 753.3,795.5 760.0,801.0C766.7,806.5 773.7,813.0 780.0,819.0C786.3,825.0 791.3,831.2 798.0,837.0C804.7,842.8 813.0,848.9 820.0,854.0C827.0,859.1 832.2,861.1 840.0,867.7C847.8,874.3 857.7,884.4 866.5,893.8C875.3,903.2 884.1,914.8 893.0,924.3C901.9,933.8 912.2,943.9 919.6,950.9C927.0,957.9 930.6,960.6 937.3,966.0C944.0,971.4 952.9,978.0 960.0,983.0C967.1,988.0 973.3,991.5 980.0,996.0C986.7,1000.5 993.3,1005.7 1000.0,1010.0C1006.7,1014.3 1013.3,1018.7 1020.0,1022.0C1026.7,1025.3 1034.3,1027.3 1040.0,1030.0C1045.7,1032.7 1047.3,1036.7 1054.0,1038.0C1060.7,1039.3 1072.3,1037.0 1080.0,1038.0C1087.7,1039.0 1091.7,1043.0 1100.0,1044.0C1108.3,1045.0 1122.0,1044.3 1130.0,1044.0C1138.0,1043.7 1142.3,1041.3 1148.0,1042.0C1153.7,1042.7 1158.7,1047.7 1164.0,1048.0C1169.3,1048.3 1174.0,1042.8 1180.0,1044.0C1186.0,1045.2 1194.0,1053.8 1200.0,1055.0C1206.0,1056.2 1210.7,1050.5 1216.0,1051.0C1221.3,1051.5 1226.3,1057.7 1232.0,1058.0C1237.7,1058.3 1242.0,1053.5 1250.0,1053.0C1258.0,1052.5 1271.7,1054.5 1280.0,1055.0C1288.3,1055.5 1290.0,1055.2 1300.0,1056.0C1310.0,1056.8 1326.7,1057.0 1340.0,1060.0C1353.3,1063.0 1366.7,1071.3 1380.0,1074.0C1393.3,1076.7 1406.7,1076.0 1420.0,1076.0C1433.3,1076.0 1450.0,1073.7 1460.0,1074.0C1470.0,1074.3 1474.3,1078.2 1480.0,1078.0C1485.7,1077.8 1489.0,1072.3 1494.0,1073.0C1499.0,1073.7 1504.0,1079.2 1510.0,1082.0C1516.0,1084.8 1523.7,1088.0 1530.0,1090.0C1536.3,1092.0 1544.3,1089.7 1548.0,1094.0C1551.7,1098.3 1550.3,1107.5 1552.0,1116.0C1553.7,1124.5 1555.7,1141.7 1558.0,1145.0C1560.3,1148.3 1561.5,1139.3 1566.0,1136.0C1570.5,1132.7 1580.3,1127.0 1585.0,1125.0C1589.7,1123.0 1588.2,1123.8 1594.0,1124.0C1599.8,1124.2 1612.3,1125.8 1620.0,1126.0C1627.7,1126.2 1626.7,1124.3 1640.0,1125.0C1653.3,1125.7 1677.0,1128.0 1700.0,1130.0C1723.0,1132.0 1765.0,1135.8 1778.0,1137.0"/>
<path stroke="#008080" d="M258.5,851.0C258.7,847.0 259.1,834.3 259.5,827.0C259.9,819.7 260.4,813.2 261.0,807.0C261.6,800.8 262.4,794.6 263.0,790.0C263.6,785.4 263.5,784.3 264.5,779.5C265.5,774.7 267.6,766.6 268.9,761.0C270.2,755.4 271.4,750.3 272.5,746.0C273.6,741.7 273.9,740.8 275.5,735.0C277.1,729.2 279.8,718.3 282.0,711.0C284.2,703.7 286.7,697.7 289.0,691.0C291.3,684.3 293.6,677.7 295.8,671.0C298.1,664.3 299.4,657.5 302.5,651.0C305.6,644.5 309.0,641.1 314.5,632.0C320.0,622.9 327.2,609.2 335.5,596.4C343.8,583.6 355.0,564.6 364.5,555.0C374.0,545.4 384.5,543.3 392.5,539.0C400.5,534.7 405.8,533.0 412.5,529.0C419.2,525.0 425.0,518.7 432.5,515.0C440.0,511.3 449.3,506.5 457.5,507.0C465.7,507.5 472.5,512.8 481.5,518.0C490.5,523.2 501.5,532.0 511.5,538.0C521.5,544.0 533.2,547.3 541.5,554.0C549.8,560.7 554.8,567.3 561.5,578.0C568.2,588.7 574.8,606.3 581.5,618.0C588.2,629.7 594.8,637.3 601.5,648.0C608.2,658.7 614.8,671.7 621.5,682.0C628.2,692.3 634.8,702.0 641.5,710.0C648.2,718.0 654.8,724.0 661.5,730.0C668.2,736.0 674.8,741.7 681.5,746.0C688.2,750.3 694.8,752.0 701.5,756.0C708.2,760.0 716.5,766.4 721.5,770.0C726.5,773.6 725.9,773.8 731.5,777.8C737.1,781.8 747.2,787.8 755.1,794.0C763.0,800.2 771.8,808.7 778.7,815.0C785.6,821.3 789.5,824.5 796.4,832.0C803.3,839.5 812.7,853.0 820.0,860.0C827.3,867.0 832.2,867.2 840.0,874.0C847.8,880.8 857.7,891.2 866.5,901.0C875.3,910.8 884.1,923.3 893.0,933.0C901.9,942.7 911.8,951.5 919.6,959.0C927.4,966.5 933.3,972.2 940.0,978.0C946.7,983.8 953.3,989.0 960.0,994.0C966.7,999.0 973.3,1003.7 980.0,1008.0C986.7,1012.3 993.3,1015.0 1000.0,1020.0C1006.7,1025.0 1013.3,1033.3 1020.0,1038.0C1026.7,1042.7 1034.0,1044.7 1040.0,1048.0C1046.0,1051.3 1049.3,1056.0 1056.0,1058.0C1062.7,1060.0 1072.7,1058.7 1080.0,1060.0C1087.3,1061.3 1093.3,1064.7 1100.0,1066.0C1106.7,1067.3 1114.0,1066.3 1120.0,1068.0C1126.0,1069.7 1131.0,1075.0 1136.0,1076.0C1141.0,1077.0 1142.7,1074.0 1150.0,1074.0C1157.3,1074.0 1171.7,1075.3 1180.0,1076.0C1188.3,1076.7 1190.0,1077.2 1200.0,1078.0C1210.0,1078.8 1226.7,1080.0 1240.0,1081.0C1253.3,1082.0 1270.0,1083.2 1280.0,1084.0C1290.0,1084.8 1293.3,1085.8 1300.0,1086.0C1306.7,1086.2 1310.0,1084.3 1320.0,1085.0C1330.0,1085.7 1346.7,1088.7 1360.0,1090.0C1373.3,1091.3 1386.7,1092.5 1400.0,1093.0C1413.3,1093.5 1423.3,1092.7 1440.0,1093.0C1456.7,1093.3 1483.3,1094.5 1500.0,1095.0C1516.7,1095.5 1530.0,1095.2 1540.0,1096.0C1550.0,1096.8 1553.3,1098.7 1560.0,1100.0C1566.7,1101.3 1574.3,1103.0 1580.0,1104.0C1585.7,1105.0 1587.3,1105.7 1594.0,1106.0C1600.7,1106.3 1609.0,1106.3 1620.0,1106.0C1631.0,1105.7 1646.7,1104.0 1660.0,1104.0C1673.3,1104.0 1680.3,1105.2 1700.0,1106.0C1719.7,1106.8 1765.0,1108.5 1778.0,1109.0"/>
<path stroke="#ff0000" d="M256.0,850.0C256.2,846.0 256.6,833.3 257.0,826.0C257.4,818.7 257.9,812.2 258.5,806.0C259.1,799.8 259.9,793.6 260.5,789.0C261.1,784.4 261.0,783.3 262.0,778.5C263.0,773.7 265.1,765.6 266.4,760.0C267.7,754.4 268.9,749.3 270.0,745.0C271.1,740.7 271.4,739.8 273.0,734.0C274.6,728.2 277.2,717.3 279.5,710.0C281.8,702.7 284.2,696.7 286.5,690.0C288.8,683.3 291.1,676.7 293.3,670.0C295.6,663.3 296.9,656.5 300.0,650.0C303.1,643.5 306.5,640.1 312.0,631.0C317.5,621.9 324.7,608.2 333.0,595.4C341.3,582.6 352.5,563.6 362.0,554.0C371.5,544.4 382.0,542.3 390.0,538.0C398.0,533.7 403.3,532.0 410.0,528.0C416.7,524.0 422.3,517.2 430.0,514.0C437.7,510.8 447.7,508.0 456.0,509.0C464.3,510.0 471.0,514.8 480.0,520.0C489.0,525.2 500.0,534.0 510.0,540.0C520.0,546.0 531.7,549.3 540.0,556.0C548.3,562.7 553.3,569.3 560.0,580.0C566.7,590.7 573.3,608.3 580.0,620.0C586.7,631.7 593.3,639.3 600.0,650.0C606.7,660.7 613.3,673.7 620.0,684.0C626.7,694.3 633.3,704.0 640.0,712.0C646.7,720.0 653.3,726.0 660.0,732.0C666.7,738.0 673.3,743.7 680.0,748.0C686.7,752.3 693.3,754.0 700.0,758.0C706.7,762.0 715.0,768.4 720.0,772.0C725.0,775.6 724.4,775.8 730.0,779.8C735.6,783.8 745.7,789.8 753.6,796.0C761.5,802.2 770.3,810.7 777.2,817.0C784.1,823.3 788.8,827.2 794.9,834.0C801.0,840.8 808.8,852.5 814.0,858.0C819.2,863.5 821.7,863.5 826.0,867.0C830.3,870.5 833.2,872.0 840.0,879.0C846.8,886.0 857.7,898.5 866.5,908.8C875.3,919.1 885.6,931.8 893.0,941.0C900.4,950.2 905.5,957.8 910.8,964.0C916.1,970.2 920.1,973.7 925.0,978.0C929.9,982.3 934.2,986.0 940.0,990.0C945.8,994.0 953.3,997.7 960.0,1002.0C966.7,1006.3 973.3,1011.7 980.0,1016.0C986.7,1020.3 993.3,1023.0 1000.0,1028.0C1006.7,1033.0 1013.3,1041.3 1020.0,1046.0C1026.7,1050.7 1034.0,1052.7 1040.0,1056.0C1046.0,1059.3 1049.3,1064.0 1056.0,1066.0C1062.7,1068.0 1072.7,1066.3 1080.0,1068.0C1087.3,1069.7 1093.3,1074.3 1100.0,1076.0C1106.7,1077.7 1114.0,1076.5 1120.0,1078.0C1126.0,1079.5 1131.0,1084.5 1136.0,1085.0C1141.0,1085.5 1142.7,1080.8 1150.0,1081.0C1157.3,1081.2 1170.0,1084.0 1180.0,1086.0C1190.0,1088.0 1203.3,1092.8 1210.0,1093.0C1216.7,1093.2 1215.0,1087.3 1220.0,1087.0C1225.0,1086.7 1230.0,1089.8 1240.0,1091.0C1250.0,1092.2 1270.0,1093.2 1280.0,1094.0C1290.0,1094.8 1293.3,1095.2 1300.0,1096.0C1306.7,1096.8 1313.3,1099.3 1320.0,1099.0C1326.7,1098.7 1333.3,1093.8 1340.0,1094.0C1346.7,1094.2 1351.7,1098.7 1360.0,1100.0C1368.3,1101.3 1380.0,1101.8 1390.0,1102.0C1400.0,1102.2 1411.7,1100.7 1420.0,1101.0C1428.3,1101.3 1434.3,1104.7 1440.0,1104.0C1445.7,1103.3 1447.3,1097.7 1454.0,1097.0C1460.7,1096.3 1472.3,1099.2 1480.0,1100.0C1487.7,1100.8 1490.0,1101.5 1500.0,1102.0C1510.0,1102.5 1528.3,1102.3 1540.0,1103.0C1551.7,1103.7 1560.0,1105.2 1570.0,1106.0C1580.0,1106.8 1588.3,1107.3 1600.0,1108.0C1611.7,1108.7 1623.3,1109.0 1640.0,1110.0C1656.7,1111.0 1677.0,1112.7 1700.0,1114.0C1723.0,1115.3 1765.0,1117.3 1778.0,1118.0"/>
</g>
<g class="s" font-size="70" fill="#000">
<text x="231" y="1141.5" text-anchor="end">0.0</text>
<text x="231" y="829.0" text-anchor="end">0.1</text>
<text x="231" y="516.5" text-anchor="end">0.2</text>
<text x="231" y="204.0" text-anchor="end">0.3</text>
<text x="518.5" y="1233.2" text-anchor="middle" font-size="71">250</text>
<text x="1042.8" y="1233.2" text-anchor="middle" font-size="71">300</text>
<text x="1567.0" y="1233.2" text-anchor="middle" font-size="71">350</text>
</g>
<text class="s" font-size="71.2" transform="translate(77.8,598.9) rotate(-90)" text-anchor="middle">Absorbance</text>
<text x="941.3" y="1338.9" font-size="55.6" font-family="Noto Serif CJK SC, serif" font-weight="300" font-style="italic">λ</text>
<text x="975" y="1339" font-size="72" class="s">/nm</text>
<text x="359.8" y="212.75" font-size="64.8" font-family="Noto Serif CJK SC, serif" font-weight="300" font-style="italic">λ</text>
<text x="400.5" y="226.5" class="r" font-size="49">max</text>
<text x="504" y="212.6" class="r" font-size="75">244 nm</text>
<g stroke="#000" fill="none" stroke-width="8.7">
<line x1="608.3" y1="584" x2="608.3" y2="318"/>
<polyline points="593,344 608.3,314 623.6,344" stroke-width="8" stroke-linecap="round" stroke-linejoin="round"/>
<line x1="1543.2" y1="181" x2="1543.2" y2="490"/>
<polyline points="1527,465 1543.2,494 1559,465" stroke-width="8" stroke-linecap="round" stroke-linejoin="round"/>
</g>
</svg></body></html>
